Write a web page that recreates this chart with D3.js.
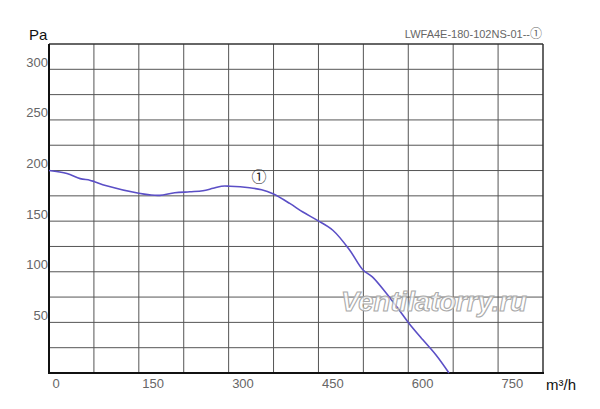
<!DOCTYPE html>
<html><head><meta charset="utf-8">
<script src="https://cdn.jsdelivr.net/npm/d3@7"></script>
<style>body{margin:0;background:#fff}svg{display:block}</style>
</head><body>
<svg id="c" width="600" height="409"></svg>
<script>
const flow = [0, 30, 52, 68, 76, 96, 150, 168, 185, 210, 235, 257, 274, 288, 302, 335, 355, 374, 402, 424, 449, 474, 502, 524, 540, 563, 585, 600, 624, 646, 668];
const pressure = [200, 197, 192, 190.5, 189, 185, 177.5, 176, 175.5, 178, 179, 180, 182.5, 184.5, 184.5, 183, 181, 177, 167.5, 159, 150.5, 141, 121.5, 102, 95, 79, 62, 50, 33, 18, 0];
const xTicks = [0, 150, 300, 450, 600, 750];
const yTicks = [50, 100, 150, 200, 250, 300];
const xGrid = [75,150,225,300,375,450,525,600,675,750];
const yGrid = [25,50,75,100,125,150,175,200,225,250,275,300];
const titleText = "LWFA4E-180-102NS-01--";

const svg = d3.select("#c");
const L=49, R=543, T=44, B=373;
const x = d3.scaleLinear().domain([0,825]).range([L,R]);
const y = d3.scaleLinear().domain([0,325]).range([B,T]);

const g = svg.append("g");
g.selectAll(".vg").data(xGrid).join("line")
 .attr("x1",d=>x(d)).attr("x2",d=>x(d)).attr("y1",T).attr("y2",B)
 .attr("stroke","#555").attr("stroke-width",1);
g.selectAll(".hg").data(yGrid).join("line")
 .attr("x1",L).attr("x2",R).attr("y1",d=>y(d)).attr("y2",d=>y(d))
 .attr("stroke","#555").attr("stroke-width",1);

svg.append("line").attr("x1",L).attr("x2",R).attr("y1",T).attr("y2",T).attr("stroke","#333").attr("stroke-width",1.5);
svg.append("line").attr("x1",R).attr("x2",R).attr("y1",T).attr("y2",B).attr("stroke","#333").attr("stroke-width",1.5);
svg.append("line").attr("x1",L).attr("x2",L).attr("y1",T).attr("y2",B+1).attr("stroke","#111").attr("stroke-width",2);
svg.append("line").attr("x1",L-1).attr("x2",R+1).attr("y1",B).attr("y2",B).attr("stroke","#111").attr("stroke-width",2);

const pts = flow.map((q,i)=>[q,pressure[i]]);
const line = d3.line().x(d=>x(d[0])).y(d=>y(d[1])).curve(d3.curveCatmullRom.alpha(0.5));
svg.append("path").attr("d",line(pts)).attr("fill","none").attr("stroke","#5b4fc6").attr("stroke-width",1.6);

svg.append("text").attr("x",341).attr("y",311).text("Ventilatorry.ru")
 .attr("font-family","Liberation Sans, Arial, sans-serif").attr("font-weight","bold").attr("font-style","italic")
 .attr("font-size",27.5).attr("fill","#fff").attr("fill-opacity",0.75).attr("stroke","#aaa").attr("stroke-width",1.1);

const font = "Liberation Sans, Arial, sans-serif";
const cjk = "Noto Sans CJK SC, sans-serif";
svg.selectAll(".xt").data(xTicks).join("text")
 .attr("x",d=>x(d)+3.5).attr("y",388).text(d=>d)
 .attr("font-family",font).attr("font-size",13).attr("fill","#666");
svg.selectAll(".yt").data(yTicks).join("text")
 .attr("x",48).attr("y",d=>y(d)-2.5).attr("text-anchor","end").text(d=>d)
 .attr("font-family",font).attr("font-size",13).attr("fill","#666");

svg.append("text").attr("x",29).attr("y",40).text("Pa").attr("font-family",font).attr("font-size",15).attr("fill","#111");
svg.append("text").attr("x",546).attr("y",390).text("m³/h").attr("font-family",font).attr("font-size",15).attr("fill","#111");
const t = svg.append("text").attr("x",542).attr("y",38).attr("text-anchor","end")
 .attr("font-family",font).attr("font-size",11).attr("fill","#666");
t.append("tspan").text(titleText);
t.append("tspan").text("①").attr("font-family",cjk).attr("font-size",12);
svg.append("text").attr("x",259).attr("y",182).attr("text-anchor","middle").text("①").attr("font-family",cjk).attr("font-size",15).attr("fill","#222");
</script>
</body></html>
